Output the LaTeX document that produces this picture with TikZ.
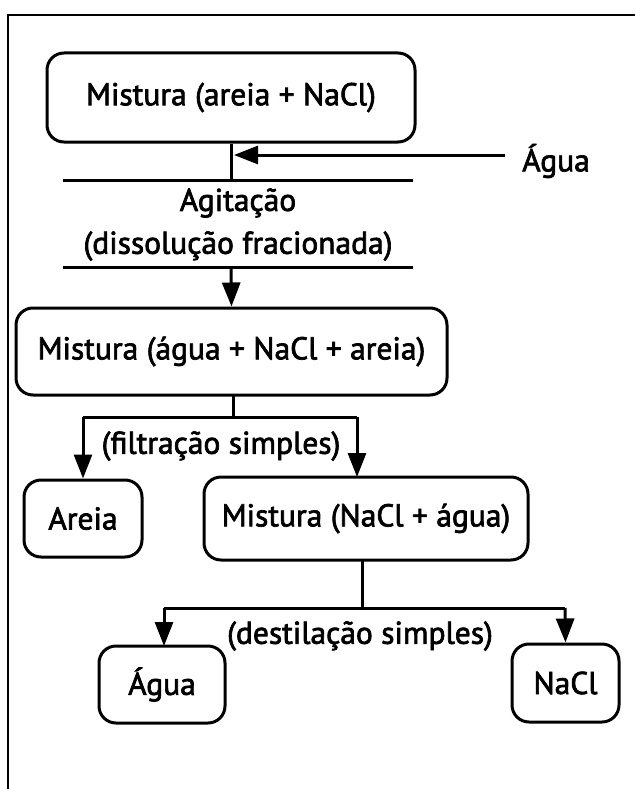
\documentclass[tikz,border=0pt]{standalone}
\usepackage{fontspec}
\setmainfont{PT Sans}[FakeBold=2.2]
\usetikzlibrary{arrows.meta}
\begin{document}
\begin{tikzpicture}[x=1pt,y=-1pt,
  line width=3pt,
  every node/.style={font=\fontsize{31.5}{34}\selectfont, inner sep=0pt},
  rbox/.style={draw, rounded corners=17pt, line width=3pt},
  arr/.style={-{Triangle[length=24pt,width=18pt]}},
  lbl/.style={}]
\useasboundingbox (0,0) rectangle (635,789);
% frame
\draw[line width=2.4pt] (635,15) -- (8,15) -- (8,789);
% boxes
\node[rbox, minimum width=368pt, minimum height=89pt] (b1) at (231,97.5) {Mistura (areia + NaCl)};
\node[rbox, minimum width=431pt, minimum height=87pt] (b2) at (231.5,351.5) {Mistura (água + NaCl + areia)};
\node[rbox, minimum width=118pt, minimum height=77pt] (areia) at (83,518.5) {Areia};
\node[rbox, minimum width=324pt, minimum height=83pt] (b3) at (366,518.5) {Mistura (NaCl + água)};
\node[rbox, minimum width=126pt, minimum height=77pt] (agua) at (162,684.5) {Água};
\node[rbox, minimum width=107pt, minimum height=78pt] (nacl) at (565.5,683) {NaCl};
% labels
\node[lbl] (water) at (556,161) {Água};
\node[lbl] (agit) at (238,203) {Agitação};
\node[lbl] (diss) at (238,246) {(dissolução fracionada)};
\node[lbl] (filt) at (221,446) {(filtração simples)};
\node[lbl] (dest) at (360,636) {(destilação simples)};
% separation lines
\coordinate (l1a) at (63,180); \coordinate (l1b) at (413,180);
\coordinate (l2a) at (63,267); \coordinate (l2b) at (413,267);
\draw (l1a) -- (l1b);
\draw (l2a) -- (l2b);
% stage 1
\coordinate (j1) at (231,180);
\coordinate (wtip) at (234,155);
\coordinate (wstart) at (505,155);
\draw (b1.south) -- (j1);
\draw[arr] (wstart) -- (wtip);
\coordinate (s2) at (231,267);
\draw[arr] (s2) -- (b2.north);
% filtration
\coordinate (f0) at (233,395);
\coordinate (f1) at (233,417);
\coordinate (fl) at (83,417);
\coordinate (fr) at (357,417);
\draw (f0) -- (f1);
\draw (fl) -- (fr);
\draw[arr] (fl) -- (areia.north);
\draw[arr] (fr) -- (357,477);
% distillation
\coordinate (d0) at (362,560);
\coordinate (d1) at (362,608);
\coordinate (dl) at (164,608);
\coordinate (dr) at (565,608);
\draw (d0) -- (d1);
\draw (dl) -- (dr);
\draw[arr] (dl) -- (164,646);
\draw[arr] (dr) -- (nacl.north);
\end{tikzpicture}
\end{document}
